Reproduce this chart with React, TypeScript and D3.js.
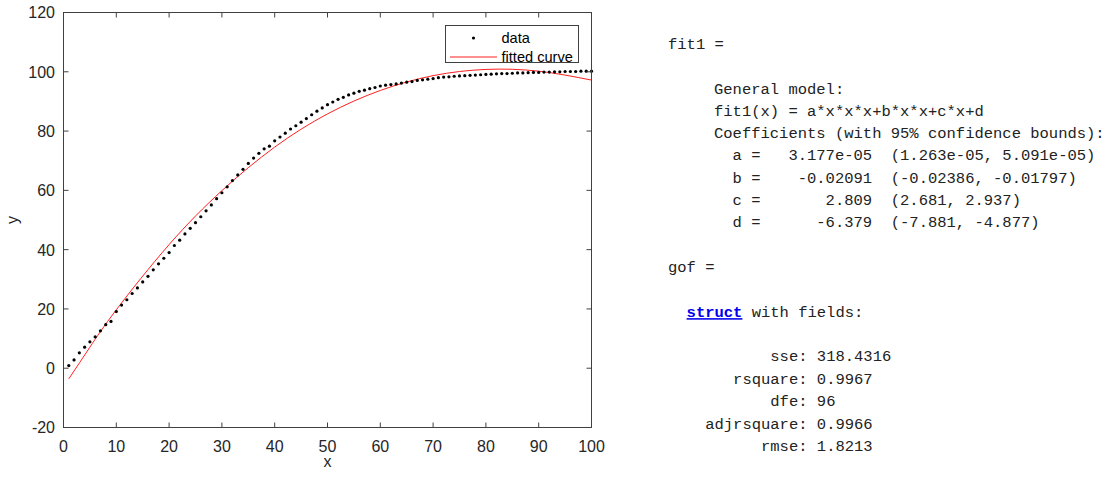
import * as d3 from 'd3';

// measured points (x = 1..100)
const dataY = [
  0.9, 2.8, 5.2, 7.1, 8.9, 10.6, 12.6, 14.7, 15.8, 19.1,
  21.3, 23.1, 25.2, 27.1, 29.1, 31.0, 33.2, 35.2, 37.1, 39.0,
  41.4, 43.2, 45.3, 47.2, 49.1, 51.1, 53.1, 55.1, 57.2, 59.2,
  61.2, 63.3, 65.2, 67.1, 69.1, 70.9, 72.5, 74.0, 74.9, 76.7,
  78.0, 79.3, 80.7, 81.8, 83.0, 84.2, 85.5, 86.7, 87.8, 88.9,
  89.8, 90.7, 91.4, 92.2, 92.8, 93.4, 93.8, 94.3, 94.7, 95.2,
  95.5, 95.7, 95.9, 96.2, 96.5, 96.7, 97.1, 97.3, 97.5, 97.7,
  98.0, 98.2, 98.3, 98.5, 98.6, 98.7, 98.8, 98.9, 99.0, 99.1,
  99.2, 99.3, 99.4, 99.4, 99.5, 99.6, 99.6, 99.7, 99.8, 99.8,
  99.9, 99.9, 100.0, 100.0, 100.1, 100.1, 100.1, 100.2, 100.2, 100.2,
];

// fitted curve, read at a few x positions
const fitX = [1, 5, 10, 20, 30, 40, 50, 60, 70, 80, 90, 100];
const fitY = [-3.6, 7.1, 19.7, 41.7, 59.9, 74.6, 85.8, 93.7, 98.7, 100.8, 100.2, 97.2];

const xTicks = [0, 10, 20, 30, 40, 50, 60, 70, 80, 90, 100];
const yTicks = [-20, 0, 20, 40, 60, 80, 100, 120];

const fitLines = [
  'General model:',
  'fit1(x) = a*x*x*x+b*x*x+c*x+d',
  'Coefficients (with 95% confidence bounds):',
  '  a =   3.177e-05  (1.263e-05, 5.091e-05)',
  '  b =    -0.02091  (-0.02386, -0.01797)',
  '  c =       2.809  (2.681, 2.937)',
  '  d =      -6.379  (-7.881, -4.877)',
];
const gofLines = [
  '           sse: 318.4316',
  '       rsquare: 0.9967',
  '           dfe: 96',
  '    adjrsquare: 0.9966',
  '          rmse: 1.8213',
];

const W = 1107;
const H = 477;
const L = 63.5, R = 591.5, T = 12.5, B = 427.5;
const axisColor = '#404040';
const textColor = '#262626';
const mono = '"Liberation Mono", "DejaVu Sans Mono", monospace';
const sans = '"Liberation Sans", Arial, sans-serif';

// keep runs of spaces in svg text
const keep = (s: string) => s.replace(/ /g, '\u00a0');

export default function App() {
  const x = d3.scaleLinear().domain([0, 100]).range([L, R]);
  const y = d3.scaleLinear().domain([-20, 120]).range([B, T]);

  const points = dataY.map((v, i) => ({ x: i + 1, y: v }));
  const fit = fitX.map((v, i) => ({ x: v, y: fitY[i] }));
  const fitPath = d3
    .line<{ x: number; y: number }>()
    .x((d) => x(d.x))
    .y((d) => y(d.y))
    .curve(d3.curveNatural)(fit) ?? '';

  const tickLen = 5;
  const monoSize = 15.5;
  const lineH = 22.2;
  const charW = monoSize * 0.6;

  return (
    <svg
      width={W}
      height={H}
      style={{ position: 'absolute', left: 0, top: 0, background: '#fff' }}
    >
      <rect x={0} y={0} width={W} height={H} fill="#fff" />

      {/* plot */}
      <path d={fitPath} fill="none" stroke="#ff2020" strokeWidth={1} />
      {points.map((d) => (
        <circle key={d.x} cx={x(d.x)} cy={y(d.y)} r={1.6} fill="#000" />
      ))}

      {/* box and ticks */}
      <rect x={L} y={T} width={R - L} height={B - T} fill="none" stroke={axisColor} strokeWidth={1} />
      {xTicks.map((t) => (
        <g key={'xt' + t}>
          <line x1={x(t)} x2={x(t)} y1={B} y2={B - tickLen} stroke={axisColor} />
          <line x1={x(t)} x2={x(t)} y1={T} y2={T + tickLen} stroke={axisColor} />
          <text
            x={x(t)}
            y={452}
            textAnchor="middle"
            fontFamily={sans}
            fontSize={16}
            fill={textColor}
          >
            {t}
          </text>
        </g>
      ))}
      {yTicks.map((t) => (
        <g key={'yt' + t}>
          <line x1={L} x2={L + tickLen} y1={y(t)} y2={y(t)} stroke={axisColor} />
          <line x1={R} x2={R - tickLen} y1={y(t)} y2={y(t)} stroke={axisColor} />
          <text
            x={55}
            y={y(t)}
            dy="0.37em"
            textAnchor="end"
            fontFamily={sans}
            fontSize={16}
            fill={textColor}
          >
            {t}
          </text>
        </g>
      ))}
      <text x={(L + R) / 2} y={467} textAnchor="middle" fontFamily={sans} fontSize={16} fill={textColor}>
        x
      </text>
      <text
        transform={`translate(18, ${(T + B) / 2}) rotate(-90)`}
        textAnchor="middle"
        fontFamily={sans}
        fontSize={16}
        fill={textColor}
      >
        y
      </text>

      {/* legend */}
      <rect x={445.5} y={25.5} width={133} height={37} fill="#fff" stroke={axisColor} strokeWidth={1} />
      <circle cx={473.5} cy={38} r={1.6} fill="#000" />
      <line x1={450} x2={497} y1={57} y2={57} stroke="#ff2020" strokeWidth={1} />
      <text x={501.5} y={38} dy="0.36em" fontFamily={sans} fontSize={14.6} fill="#000">
        data
      </text>
      <text x={501.5} y={57} dy="0.36em" fontFamily={sans} fontSize={14.6} fill="#000">
        fitted curve
      </text>

      {/* command window output */}
      <g fontFamily={mono} fontSize={monoSize} fill="#222">
        <text x={668} y={43.5} dy="0.35em">{keep('fit1 =')}</text>
        {fitLines.map((s, i) => (
          <text key={'f' + i} x={714} y={88.3 + i * lineH} dy="0.35em">
            {keep(s)}
          </text>
        ))}
        <text x={668} y={266.7} dy="0.35em">{keep('gof =')}</text>
        <text x={668 + 2 * charW} y={311.7} dy="0.35em">
          <tspan fill="#0000ee" fontWeight="bold" textDecoration="underline">struct</tspan>
          <tspan>{keep(' with fields:')}</tspan>
        </text>
        {gofLines.map((s, i) => (
          <text key={'g' + i} x={668} y={356 + i * lineH * 1.01} dy="0.35em">
            {keep(s)}
          </text>
        ))}
      </g>
    </svg>
  );
}
